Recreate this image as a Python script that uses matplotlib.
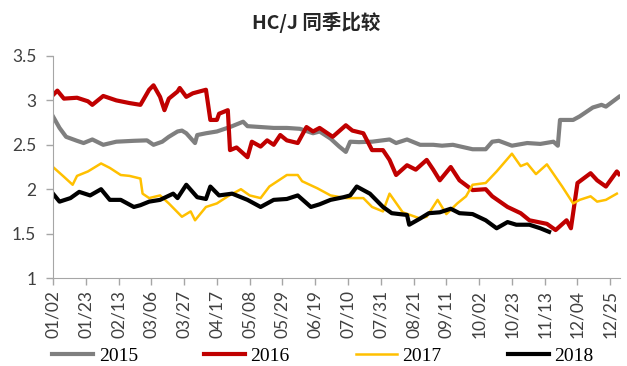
import matplotlib.pyplot as plt

# 交易日序号（每 15 个交易日一个刻度）与读数
tick_labels = ["01/02", "01/23", "02/13", "03/06", "03/27", "04/17", "05/08",
               "05/29", "06/19", "07/10", "07/31", "08/21", "09/11", "10/02",
               "10/23", "11/13", "12/04", "12/25"]

d2015 = [0, 3, 6, 11, 14, 18, 23, 29, 37, 43, 46, 50, 53, 57, 59, 61, 65, 66,
         70, 75, 81, 87, 89, 95, 101, 107, 113, 119, 122, 127, 131, 134, 136,
         140, 146, 154, 157, 162, 168, 174, 178, 183, 192, 198, 201, 204, 210,
         217, 223, 229, 231, 232, 238, 241, 247, 251, 253, 259]
v2015 = [2.82, 2.69, 2.59, 2.545, 2.52, 2.56, 2.50, 2.535, 2.545, 2.55, 2.50,
         2.535, 2.59, 2.65, 2.66, 2.63, 2.52, 2.61, 2.63, 2.65, 2.70, 2.76,
         2.71, 2.70, 2.69, 2.69, 2.68, 2.63, 2.65, 2.57, 2.48, 2.42, 2.535,
         2.53, 2.535, 2.56, 2.52, 2.56, 2.50, 2.50, 2.49, 2.50, 2.45, 2.45,
         2.535, 2.545, 2.49, 2.52, 2.51, 2.535, 2.49, 2.78, 2.78, 2.82, 2.92,
         2.95, 2.93, 3.04]

d2016 = [0, 2, 5, 11, 16, 18, 23, 29, 35, 40, 44, 46, 49, 51, 53, 57, 58, 61,
         64, 70, 72, 75, 76, 80, 81, 84, 89, 91, 95, 98, 101, 104, 107, 112,
         116, 119, 122, 128, 134, 137, 142, 146, 151, 154, 157, 162, 166, 171,
         174, 177, 182, 186, 192, 198, 201, 208, 214, 218, 226, 230, 235, 237,
         240, 246, 249, 253, 258, 259]
v2016 = [3.06, 3.11, 3.02, 3.03, 2.99, 2.95, 3.05, 3.00, 2.97, 2.95, 3.12,
         3.17, 3.04, 2.89, 3.02, 3.10, 3.14, 3.04, 3.08, 3.12, 2.78, 2.78,
         2.85, 2.89, 2.44, 2.47, 2.36, 2.535, 2.48, 2.55, 2.50, 2.61, 2.55,
         2.52, 2.70, 2.65, 2.69, 2.59, 2.72, 2.66, 2.63, 2.44, 2.44, 2.33,
         2.16, 2.27, 2.22, 2.33, 2.22, 2.10, 2.25, 2.10, 1.99, 2.00, 1.92,
         1.80, 1.73, 1.65, 1.61, 1.54, 1.65, 1.56, 2.07, 2.18, 2.10, 2.03,
         2.20, 2.17]

d2017 = [0, 5, 9, 11, 16, 22, 26, 31, 35, 40, 41, 44, 49, 53, 59, 63, 65, 70,
         75, 80, 86, 90, 95, 99, 107, 112, 114, 121, 127, 134, 142, 146, 151,
         154, 160, 168, 171, 176, 180, 185, 189, 192, 198, 203, 210, 214, 217,
         221, 226, 233, 238, 241, 246, 249, 253, 258]
v2017 = [2.25, 2.14, 2.05, 2.15, 2.20, 2.29, 2.24, 2.16, 2.15, 2.12, 1.95,
         1.90, 1.93, 1.84, 1.69, 1.75, 1.65, 1.80, 1.84, 1.92, 2.00, 1.93,
         1.90, 2.03, 2.16, 2.16, 2.09, 2.01, 1.93, 1.90, 1.90, 1.80, 1.75,
         1.95, 1.74, 1.67, 1.69, 1.88, 1.72, 1.84, 1.92, 2.05, 2.07, 2.20,
         2.40, 2.26, 2.29, 2.17, 2.28, 2.03, 1.84, 1.88, 1.92, 1.86, 1.88,
         1.95]

d2018 = [0, 3, 8, 12, 17, 22, 26, 31, 37, 40, 44, 49, 55, 57, 61, 66, 70, 72,
         76, 82, 89, 95, 101, 107, 112, 118, 122, 127, 133, 136, 139, 145, 151,
         155, 162, 163, 168, 172, 177, 182, 186, 192, 198, 203, 208, 212, 218,
         223, 227]
v2018 = [1.95, 1.86, 1.90, 1.97, 1.93, 2.00, 1.88, 1.88, 1.80, 1.82, 1.86,
         1.88, 1.95, 1.90, 2.05, 1.91, 1.89, 2.03, 1.93, 1.95, 1.88, 1.80,
         1.88, 1.89, 1.93, 1.80, 1.83, 1.88, 1.91, 1.93, 2.03, 1.95, 1.80,
         1.73, 1.71, 1.60, 1.67, 1.73, 1.74, 1.78, 1.73, 1.72, 1.65, 1.56,
         1.63, 1.60, 1.60, 1.56, 1.52]

series = [
    ("2015", d2015, v2015, "#7f7f7f", 3.0),
    ("2016", d2016, v2016, "#c00000", 3.0),
    ("2017", d2017, v2017, "#ffc000", 1.8),
    ("2018", d2018, v2018, "#000000", 3.0),
]

fig = plt.figure(figsize=(6.27, 3.66), dpi=100)
ax = fig.add_axes([0.0845, 0.2404, 0.9045, 0.6066])

for label, xs, ys, color, lw in series:
    ax.plot(xs, ys, color=color, linewidth=lw, label=label,
            solid_joinstyle="round")

ax.set_xlim(0, 259.5)
ax.set_ylim(1, 3.5)
ax.set_yticks([1, 1.5, 2, 2.5, 3, 3.5])
ax.set_yticklabels(["1", "1.5", "2", "2.5", "3", "3.5"])
ax.set_xticks([i * 15 for i in range(len(tick_labels))])
ax.set_xticklabels(tick_labels, rotation=90)

for lab in ax.get_xticklabels() + ax.get_yticklabels():
    lab.set_fontfamily("Lato")
    lab.set_fontsize(12.5)
    lab.set_color("#404040")

ax.spines["top"].set_visible(False)
ax.spines["right"].set_visible(False)
ax.spines["left"].set_color("#a6a6a6")
ax.spines["bottom"].set_color("#a6a6a6")
ax.tick_params(axis="both", colors="#a6a6a6", length=5, width=1,
               labelcolor="#404040")
ax.tick_params(axis="y", pad=7)

fig.text(0.505, 0.94, "HC/J 同季比较", ha="center", va="center",
         fontsize=14, fontweight="bold",
         family=["Noto Sans CJK SC", "DejaVu Sans"], color="#262626")

fig.legend(loc="lower center", bbox_to_anchor=(0.515, -0.045), ncol=4,
           frameon=False, prop={"family": "Liberation Serif", "size": 14},
           handlelength=2.1, columnspacing=3.4, handletextpad=0.3)

plt.savefig("out.png", dpi=100)
plt.close()
